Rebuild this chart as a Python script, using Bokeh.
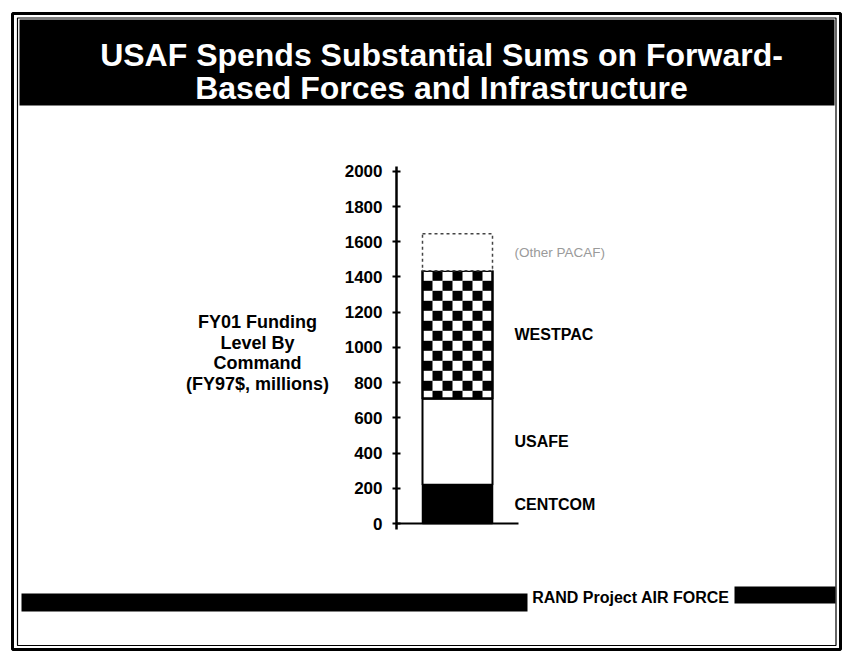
import numpy as np
from bokeh.plotting import figure
from bokeh.models import Range1d, LinearAxis, FixedTicker, ColumnDataSource
from bokeh.core.properties import value
from bokeh.embed import file_html
from bokeh.resources import INLINE

# ---------------- data ----------------
TITLE_LINES = ["USAF Spends Substantial Sums on Forward-",
               "Based Forces and Infrastructure"]
COMMANDS = ["CENTCOM", "USAFE", "WESTPAC", "(Other PACAF)"]
FUNDING = [220, 490, 725, 210]          # FY01 funding, FY97$ millions
Y_TICKS = [0, 200, 400, 600, 800, 1000, 1200, 1400, 1600, 1800, 2000]
Y_TITLE_LINES = ["FY01 Funding", "Level By", "Command", "(FY97$, millions)"]
FOOTER = "RAND Project AIR FORCE"

# ---------------- layout (page pixels) ----------------
W, H = 844, 655
PAGE_L, PAGE_T = 0, 0
AXIS_ZERO_PX = 523.0          # page y of value 0
PX_PER_UNIT = 0.1761          # pixels per $M
AXIS_X = 396                  # page x of the value axis
BAR_X, BAR_W = 457, 70
LABEL_X = 514
FONT = value("Liberation Sans")

y_lo = (AXIS_ZERO_PX - (PAGE_T + H)) / PX_PER_UNIT
y_hi = (AXIS_ZERO_PX - PAGE_T) / PX_PER_UNIT

p = figure(width=W, height=H, output_backend="svg", toolbar_location=None,
           x_range=Range1d(PAGE_L, PAGE_L + W), y_range=Range1d(y_lo, y_hi),
           x_axis_type=None, y_axis_type=None, min_border=0,
           outline_line_color=None, background_fill_color="white",
           border_fill_color="white")
p.grid.visible = False
p.extra_y_ranges = {"px": Range1d(PAGE_T + H, PAGE_T)}

# ---------------- slide frame ----------------
p.quad(left=[12], right=[840], top=[13], bottom=[649], y_range_name="px",
       fill_color=None, line_color="black", line_width=3)
p.quad(left=[17], right=[835.5], top=[17.5], bottom=[645], y_range_name="px",
       fill_color=None, line_color="black", line_width=1.2)

# title bar
p.quad(left=[19], right=[834], top=[19], bottom=[105], y_range_name="px",
       fill_color="black", line_color=None)
p.text(x=[441, 441], y=[54, 87], text=TITLE_LINES, y_range_name="px",
       text_color="white", text_font=FONT, text_font_style="bold",
       text_font_size="32px", text_align="center", text_baseline="alphabetic")

# footer
p.quad(left=[21], right=[527], top=[593], bottom=[611], y_range_name="px",
       fill_color="black", line_color=None)
p.quad(left=[734], right=[835], top=[586], bottom=[603], y_range_name="px",
       fill_color="black", line_color=None)
p.text(x=[729], y=[597], text=[FOOTER], y_range_name="px",
       text_color="black", text_font=FONT, text_font_style="bold",
       text_font_size="16px", text_align="right", text_baseline="middle")

# ---------------- stacked bar ----------------
tops = np.cumsum(FUNDING)
bottoms = tops - np.array(FUNDING)
mids = (tops + bottoms) / 2.0

# CENTCOM: solid black
p.vbar(x=[BAR_X], width=BAR_W, bottom=[bottoms[0]], top=[tops[0]],
       fill_color="black", line_color="black", line_width=1.5)
# USAFE: white with black outline
p.vbar(x=[BAR_X], width=BAR_W, bottom=[bottoms[1]], top=[tops[1]],
       fill_color="white", line_color="black", line_width=2)
# WESTPAC: checkerboard
p.vbar(x=[BAR_X], width=BAR_W, bottom=[bottoms[2]], top=[tops[2]],
       fill_color="white", line_color=None)
cell_px = 10.0
cell_u = cell_px / PX_PER_UNIT
n_cols = int(round(BAR_W / cell_px))
n_rows = int(np.ceil(FUNDING[2] / cell_u))
cl, cr, ct, cb = [], [], [], []
for r in range(n_rows):
    t = tops[2] - r * cell_u
    b = max(tops[2] - (r + 1) * cell_u, bottoms[2])
    for c in range(n_cols):
        if (r + c) % 2 == 1:
            l = BAR_X - BAR_W / 2 + c * cell_px
            cl.append(l); cr.append(l + cell_px); ct.append(t); cb.append(b)
p.quad(left=cl, right=cr, top=ct, bottom=cb, fill_color="black", line_color=None)
p.vbar(x=[BAR_X], width=BAR_W, bottom=[bottoms[2]], top=[tops[2]],
       fill_color=None, line_color="black", line_width=2.5)
# Other PACAF: dashed outline
p.vbar(x=[BAR_X], width=BAR_W, bottom=[bottoms[3]], top=[tops[3]],
       fill_color="white", line_color="#444444", line_width=1.5,
       line_dash="3 3")

# baseline at zero
p.segment(x0=[AXIS_X], x1=[518], y0=[0], y1=[0], line_color="black", line_width=2)

# segment labels
src = ColumnDataSource(dict(x=[LABEL_X] * 3, y=list(mids[:3]), t=COMMANDS[:3]))
p.text(x="x", y="y", text="t", source=src, text_color="black", text_font=FONT,
       text_font_style="bold", text_font_size="16px", text_align="left",
       text_baseline="middle")
p.text(x=[LABEL_X], y=[mids[3]], text=[COMMANDS[3]], text_color="#9a9a9a",
       text_font=FONT, text_font_size="13.5px", text_align="left",
       text_baseline="middle")

# value axis
ax = LinearAxis(fixed_location=AXIS_X, bounds=(-35, 2030),
                ticker=FixedTicker(ticks=Y_TICKS))
ax.axis_line_width = 2.5
ax.axis_line_color = "black"
ax.major_tick_in = 4
ax.major_tick_out = 4
ax.major_tick_line_width = 2
ax.minor_tick_line_color = None
ax.major_label_text_font = "Liberation Sans"
ax.major_label_text_font_style = "bold"
ax.major_label_text_font_size = "17px"
ax.major_label_text_color = "black"
ax.major_label_standoff = 10
p.add_layout(ax, "left")

# axis title (left, multi-line)
ys = [321, 342, 362, 383]
p.text(x=[257] * 4, y=ys, text=Y_TITLE_LINES, y_range_name="px",
       text_color="black", text_font=FONT, text_font_style="bold",
       text_font_size="18px", text_align="center", text_baseline="middle")

open("out.html", "w").write(file_html(p, INLINE))
